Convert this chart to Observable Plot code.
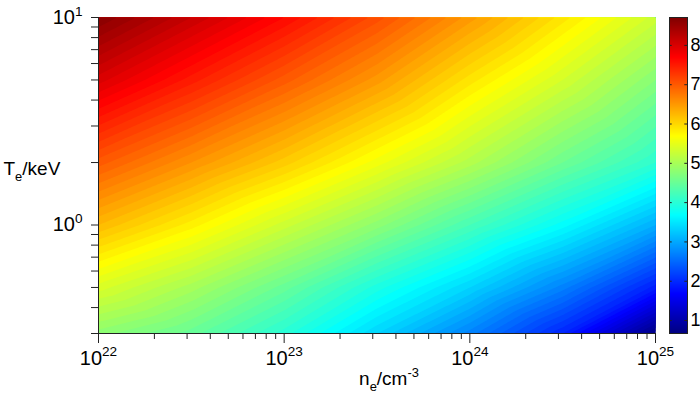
<!DOCTYPE html>
<html><head><meta charset="utf-8">
<script src="https://cdn.jsdelivr.net/npm/d3@7"></script>
<script src="https://cdn.jsdelivr.net/npm/@observablehq/plot@0.6"></script>
<style>
body{margin:0;background:#fff;}
#wrap{position:relative;width:700px;height:403px;}
#wrap svg{position:absolute;top:0;overflow:visible;}
</style></head><body><div id="wrap"></div>
<script>
const neExp = [22, 22.5, 23, 23.5, 24, 24.5, 25];      // log10 ne (cm^-3)
const teKeV = [0.3, 0.5, 1, 2, 5, 10];                  // Te (keV)
const values = [                                        // rows follow teKeV, columns follow neExp
  [4.85, 4.55, 4.05, 3.40, 2.75, 2.00, 0.75],
  [5.45, 5.05, 4.55, 3.95, 3.40, 2.75, 1.95],
  [6.30, 5.85, 5.35, 4.85, 4.30, 3.75, 3.10],
  [7.05, 6.60, 6.15, 5.65, 5.15, 4.60, 4.10],
  [8.05, 7.55, 7.05, 6.55, 5.95, 5.40, 4.80],
  [8.70, 8.20, 7.70, 7.15, 6.55, 5.95, 5.35]
];
const xMajorExp = [22, 23, 24, 25];
const yMajor = [1, 10];
const minorMantissas = [2, 3, 4, 5, 6, 7, 8, 9];
const yMinorLow = [0.3, 0.4, 0.5, 0.6, 0.7, 0.8, 0.9];
const colorTicks = [1, 2, 3, 4, 5, 6, 7, 8];
const colorRange = [0.67, 8.71];
const jetStops = [0, 0.125, 0.375, 0.625, 0.875, 1];
const jetColors = ["#000080", "#0000ff", "#00ffff", "#ffff00", "#ff0000", "#800000"];
const xLabel = "n_{e}/cm^{-3}";
const yLabel = "T_{e}/keV";

const grid = teKeV.flatMap((t, i) => neExp.map((e, j) => ({ne: Math.pow(10, e), te: t, v: values[i][j]})));
const xMajor = xMajorExp.map(e => Math.pow(10, e));
const xMinor = xMajorExp.slice(0, -1).flatMap(e => minorMantissas.map(m => m * Math.pow(10, e)));
const yMinor = yMinorLow.concat(minorMantissas);
const thresholds = d3.range(6, 88).map(d => d / 10);
const [lo, hi] = colorRange;
const color = {type: "linear", domain: jetStops.map(s => lo + s * (hi - lo)), range: jetColors, interpolate: "rgb"};
const font = "Arial, 'Liberation Sans', sans-serif";
const supFmt = d => `10^{${Math.round(Math.log10(d))}}`;

const main = Plot.plot({
  width: 700, height: 403,
  marginLeft: 98, marginRight: 45, marginTop: 17, marginBottom: 70,
  style: {fontFamily: font, color: "#000", background: "transparent"},
  x: {type: "log", domain: [1e22, 1e25], label: null},
  y: {type: "log", domain: [0.3, 10], label: null},
  color,
  marks: [
    Plot.contour(grid, {x: "ne", y: "te", fill: "v", thresholds, interpolate: "barycentric", stroke: "none", pixelSize: 1}),
    Plot.axisX(xMinor, {tickSize: 6, tickFormat: () => "", stroke: "#222"}),
    Plot.axisX(xMajor, {tickSize: 10, tickPadding: 7, tickFormat: supFmt, fontSize: 20, stroke: "#222"}),
    Plot.axisY(yMinor, {tickSize: 7, tickFormat: () => "", stroke: "#222"}),
    Plot.axisY(yMajor, {tickSize: 7, tickPadding: 9, tickFormat: supFmt, fontSize: 20, stroke: "#222"}),
    Plot.ruleY([0.3], {stroke: "#222"}),
    Plot.ruleX([1e22], {stroke: "#222"}),
    Plot.text([xLabel], {frameAnchor: "bottom", dx: 12, dy: 51, fontSize: 19, text: d => d}),
    Plot.text([yLabel], {frameAnchor: "left", dx: -95, dy: -7, textAnchor: "start", fontSize: 19, text: d => d})
  ]
});

const bar = Plot.plot({
  width: 40, height: 403,
  marginLeft: 9, marginRight: 13, marginTop: 17, marginBottom: 70,
  style: {fontFamily: font, color: "#000", background: "transparent"},
  x: {domain: [0, 1], axis: null},
  y: {domain: colorRange, axis: null},
  color,
  marks: [
    Plot.raster({x1: 0, x2: 1, y1: lo, y2: hi, fill: (x, y) => y, pixelSize: 1}),
    Plot.frame({stroke: "#222"}),
    Plot.ruleY(colorTicks, {x1: 0, x2: 0.15, stroke: "#222"}),
    Plot.ruleY(colorTicks, {x1: 0.85, x2: 1, stroke: "#222"}),
    Plot.axisY(colorTicks, {anchor: "right", tickSize: 0, tickPadding: 3, fontSize: 18, tickFormat: d => String(d)})
  ]
});

const wrap = document.getElementById("wrap");
main.style.left = "0px";
bar.style.left = "660px";
wrap.appendChild(main);
wrap.appendChild(bar);

function richify(svg) {
  d3.select(svg).selectAll("text").each(function () {
    const el = this;
    const s = el.textContent;
    if (!/[_^]\{/.test(s)) return;
    const size = parseFloat(getComputedStyle(el).fontSize) || 16;
    while (el.firstChild) el.removeChild(el.firstChild);
    let shift = 0;
    for (const m of s.matchAll(/([_^])\{([^}]*)\}|([^_^]+)/g)) {
      const t = document.createElementNS("http://www.w3.org/2000/svg", "tspan");
      let target = 0, fsz = size;
      if (m[1] === "^") { target = -0.42 * size; fsz = 0.68 * size; t.textContent = m[2]; }
      else if (m[1] === "_") { target = 0.32 * size; fsz = 0.68 * size; t.textContent = m[2]; }
      else { t.textContent = m[3]; }
      t.setAttribute("dy", (target - shift).toFixed(2));
      t.setAttribute("font-size", fsz.toFixed(2));
      shift = target;
      el.appendChild(t);
    }
  });
}
richify(main);
</script>
</body></html>
